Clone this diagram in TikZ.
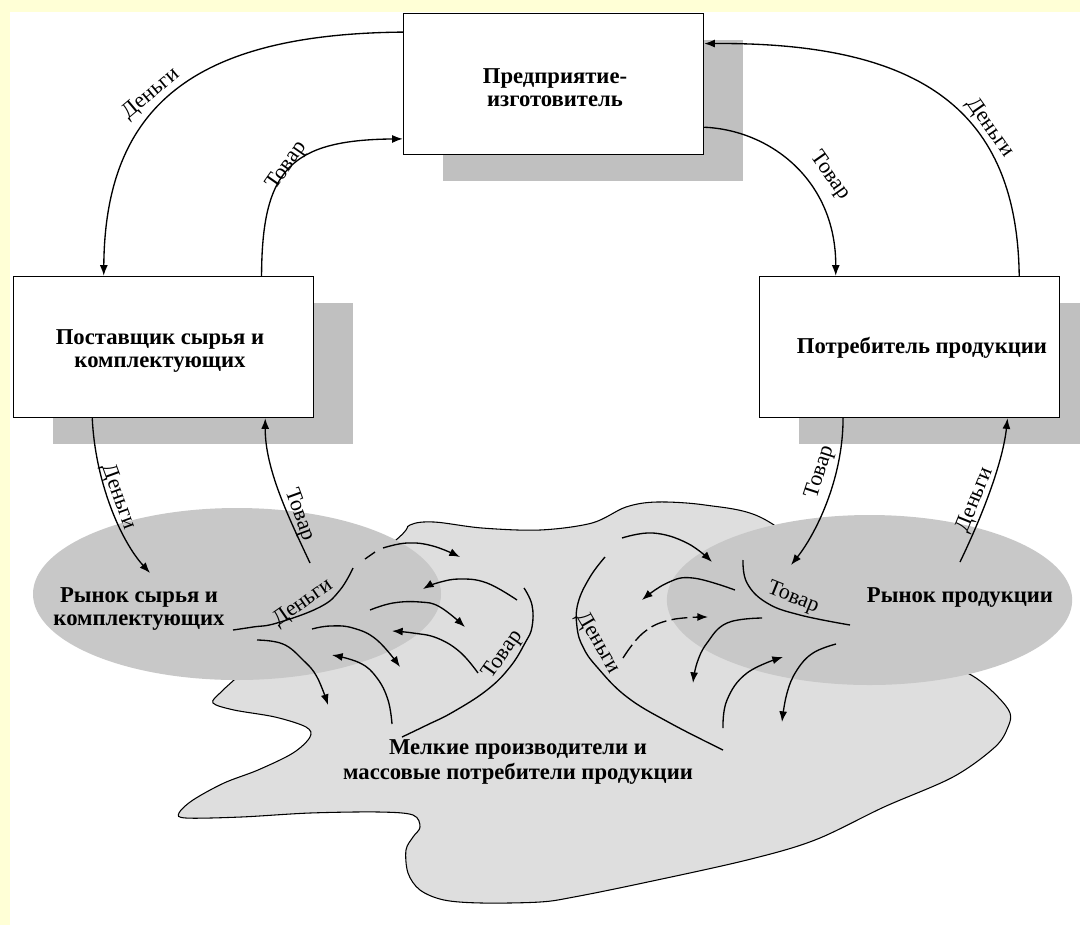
\documentclass[tikz,border=0pt]{standalone}
\usepackage{fontspec}
\setmainfont{Liberation Serif}
\usetikzlibrary{shapes.geometric,arrows.meta}
\definecolor{bgyellow}{RGB}{255,255,214}
\definecolor{shadowgray}{RGB}{192,192,192}
\definecolor{marketgray}{RGB}{200,200,200}
\definecolor{blobgray}{RGB}{222,222,222}
\tikzset{
  box/.style={draw=black, line width=1.1pt, fill=white, minimum width=225pt, minimum height=105.75pt, inner sep=0pt},
  shadowbox/.style={fill=shadowgray, minimum width=225pt, minimum height=105.75pt, inner sep=0pt},
  boxtext/.style={font=\fontsize{17}{17}\selectfont\bfseries, align=center, inner sep=0pt},
  lbl/.style={font=\fontsize{16.5}{17}\selectfont, inner sep=0pt},
  flow/.style={line width=1pt, -{Latex[length=8pt,width=6pt]}},
  plain/.style={line width=1pt},
  market/.style={ellipse, fill=marketgray, inner sep=0pt},
}
\begin{document}
\begin{tikzpicture}[x=0.75pt,y=-0.75pt]
\useasboundingbox (0,0) rectangle (1080,925);
% background
\fill[white] (0,0) rectangle (1080,925);
\fill[bgyellow] (0,0) rectangle (1080,12);
\fill[bgyellow] (0,0) rectangle (10,925);

% blob of small producers
\draw[fill=blobgray, line width=0.8pt] plot[smooth cycle, tension=0.55] coordinates {
 (396,540) (410,525) (434,522) (482,528) (540,530) (592,523) (626,507) (657,502)
 (705,505) (760,517) (820,560) (930,650) (976,678) (998,697) (1010,713) (1008,727)
 (995,747) (953,777) (884,807) (815,840) (747,860) (643,883) (574,897) (540,902)
 (482,903) (444,900) (420,890) (408,873) (406,850) (413,837) (420,827) (413,815)
 (379,812) (310,813) (241,817) (186,818) (179,813) (193,800) (224,783) (258,770)
 (293,753) (310,737) (306,727) (275,717) (234,710) (213,703) (220,693) (234,680)
 (300,620)};

% markets
\node[market, minimum width=306pt, minimum height=129pt] (lmarket) at (237,594) {};
\node[market, minimum width=304pt, minimum height=127.5pt] (rmarket) at (869.5,600) {};

% inner flows, left cluster
\draw[plain] plot[smooth, tension=0.7] coordinates {(233,630) (253,627) (277,623) (320,607) (340,590) (353,568)};
\draw[plain] (365,559) -- (375,552);
\draw[flow] plot[smooth, tension=0.7] coordinates {(383,548) (407,543) (433,546) (460,557)};
\draw[flow] plot[smooth, tension=0.7] coordinates {(517,600) (487,583) (460,579) (437,583) (423,589)};
\draw[flow] plot[smooth, tension=0.7] coordinates {(370,610) (393,603) (420,602) (440,607) (465,627)};
\draw[flow] plot[smooth, tension=0.7] coordinates {(478,673) (460,652) (437,638) (413,633) (392,631)};
\draw[flow] plot[smooth, tension=0.7] coordinates {(312,629) (330,626) (353,628) (377,640) (400,667)};
\draw[flow] plot[smooth, tension=0.7] coordinates {(257,640) (283,644) (303,660) (317,677) (328,705)};
\draw[flow] plot[smooth, tension=0.7] coordinates {(392,724) (388,700) (377,678) (360,663) (332,655)};
\draw[plain] plot[smooth, tension=0.7] coordinates {(524,588) (532,605) (532,627) (525,643) (510,667) (487,690) (453,712) (427,725) (402,737)};

% inner flows, right cluster
\draw[plain] plot[smooth, tension=0.7] coordinates {(605,557) (590,577) (578,603) (577,627) (583,647) (597,667) (627,697) (670,723) (723,750)};
\draw[flow] plot[smooth, tension=0.7] coordinates {(622,538) (653,533) (687,543) (712,562)};
\draw[flow] plot[smooth, tension=0.7] coordinates {(735,590) (693,578) (667,583) (642,600)};
\draw[flow, dash pattern=on 12pt off 4pt] plot[smooth, tension=0.7] coordinates {(623,658) (643,633) (670,620) (708,617)};
\draw[plain] plot[smooth, tension=0.7] coordinates {(743,560) (747,583) (767,603) (800,615) (850,625)};
\draw[flow] plot[smooth, tension=0.7] coordinates {(762,618) (727,623) (707,643) (697,663) (693,683)};
\draw[flow] plot[smooth, tension=0.7] coordinates {(723,728) (727,700) (747,673) (783,657)};
\draw[flow] plot[smooth, tension=0.7] coordinates {(836,644) (813,653) (797,670) (787,693) (782,722)};

% boxes with shadows
\node[shadowbox] (topsh) at (592.5,110) {};
\node[box] (top) at (553.5,84) {};
\node[shadowbox] (leftsh) at (202.5,373) {};
\node[box] (left) at (163.5,347) {};
\node[shadowbox] (rightsh) at (948.5,373) {};
\node[box] (right) at (909.5,347) {};

\node[boxtext] (toptxt) at (555,88) {Предприятие-\\изготовитель};
\node[boxtext] (lefttxt) at (160,351) {Поставщик сырья и\\комплектующих};
\node[boxtext] (righttxt) at (922,348) {Потребитель продукции};
\node[boxtext] (lmtxt) at (139,609) {Рынок сырья и\\комплектующих};
\node[boxtext] (rmtxt) at (960,598) {Рынок продукции};
\node[boxtext, font=\fontsize{17}{19}\selectfont\bfseries] (btxt) at (518,762) {Мелкие производители и\\массовые потребители продукции};

% free ends inside the markets
\coordinate (lm-in) at (150,573);
\coordinate (lm-out) at (310,563);
\coordinate (rm-in) at (791,565);
\coordinate (rm-out) at (960,562);

% main connectors
\draw[flow] (top.161) .. controls (194,34) and (105,106) .. (left.130);
\draw[flow] (left.36) .. controls (262,170) and (290,140) .. (top.200);
\draw[flow] (top.344) .. controls (770,130) and (836,180) .. (right.136);
\draw[flow] (right.33) .. controls (1017,112) and (923,42) .. (top.15.6);
\draw[flow] (left.225) .. controls (95,480) and (120,540) .. (lm-in);
\draw[flow] (lm-out) .. controls (290,520) and (265,470) .. (left.325);
\draw[flow] (right.227) .. controls (843,480) and (815,535) .. (rm-in);
\draw[flow] (rm-out) .. controls (985,510) and (1003,460) .. (right.324);

% labels
\node[lbl, rotate=40] (l1) at (151,94) {Деньги};
\node[lbl, rotate=55] (l2) at (287,166) {Товар};
\node[lbl, rotate=-55] (l3) at (830,176) {Товар};
\node[lbl, rotate=-55] (l4) at (990,128) {Деньги};
\node[lbl, rotate=-70] (l5) at (118,497) {Деньги};
\node[lbl, rotate=-70] (l6) at (299,515) {Товар};
\node[lbl, rotate=72] (l7) at (820,472) {Товар};
\node[lbl, rotate=68] (l8) at (975,500) {Деньги};
\node[lbl, rotate=35] (l9) at (303,603) {Деньги};
\node[lbl, rotate=55] (l10) at (503,655) {Товар};
\node[lbl, rotate=-60] (l11) at (598,643) {Деньги};
\node[lbl, rotate=-22] (l12) at (793,598) {Товар};
\end{tikzpicture}
\end{document}
